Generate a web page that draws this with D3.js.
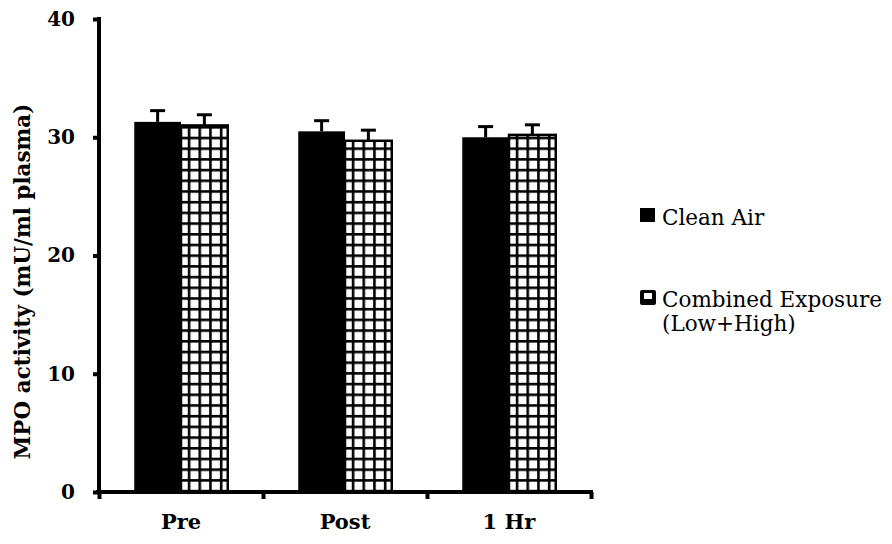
<!DOCTYPE html>
<html>
<head>
<meta charset="utf-8">
<script src="https://cdn.jsdelivr.net/npm/d3@7"></script>
<style>
  body { margin: 0; background: #fff; }
  svg { display: block; font-family: "DejaVu Serif", serif; }
</style>
</head>
<body>
<svg id="chart"></svg>
<script>
// data
const categories = ["Pre", "Post", "1 Hr"];
const seriesNames = ["Clean Air", "Combined Exposure (Low+High)"];
const cleanAir = [31.3, 30.5, 30.0];
const cleanAirErr = [0.95, 0.9, 0.9];
const combined = [31.0, 29.7, 30.2];
const combinedErr = [0.9, 0.9, 0.85];
const yTicks = [0, 10, 20, 30, 40];

const width = 892;
const height = 544;
const margin = { top: 19, right: 301, bottom: 52, left: 99 };

const svg = d3.select("#chart")
  .attr("width", width)
  .attr("height", height);

const plotW = width - margin.left - margin.right;
const plotH = height - margin.top - margin.bottom;

const g = svg.append("g")
  .attr("transform", `translate(${margin.left},${margin.top})`);

// scales
const x0 = d3.scaleBand()
  .domain(categories)
  .range([0, plotW])
  .paddingInner(0.43)
  .paddingOuter(0.215);

const x1 = d3.scaleBand()
  .domain(seriesNames)
  .range([0, x0.bandwidth()]);

const y = d3.scaleLinear()
  .domain([0, 40])
  .range([plotH, 0]);

// hatch pattern for combined exposure
const defs = svg.append("defs");
const pat = defs.append("pattern")
  .attr("id", "grid")
  .attr("patternUnits", "userSpaceOnUse")
  .attr("width", 10.7)
  .attr("height", 10.7);
pat.append("rect").attr("width", 10.7).attr("height", 10.7).attr("fill", "#fff");
pat.append("rect").attr("x", 0).attr("y", 0).attr("width", 2.6).attr("height", 10.7).attr("fill", "#000");
pat.append("rect").attr("x", 0).attr("y", 0).attr("width", 10.7).attr("height", 2.6).attr("fill", "#000");

const rows = categories.map((c, i) => ({
  cat: c,
  values: [
    { key: seriesNames[0], value: cleanAir[i], err: cleanAirErr[i] },
    { key: seriesNames[1], value: combined[i], err: combinedErr[i] }
  ]
}));

// bars
const groups = g.selectAll(".group")
  .data(rows)
  .join("g")
  .attr("class", "group")
  .attr("transform", d => `translate(${x0(d.cat)},0)`);

// error bars (upper only)
groups.selectAll(".err")
  .data(d => d.values)
  .join("g")
  .attr("class", "err")
  .each(function(d) {
    const cx = x1(d.key) + x1.bandwidth() / 2;
    const sel = d3.select(this);
    sel.append("line")
      .attr("x1", cx).attr("x2", cx)
      .attr("y1", y(d.value)).attr("y2", y(d.value + d.err))
      .attr("stroke", "#000").attr("stroke-width", 3);
    sel.append("line")
      .attr("x1", cx - 7.5).attr("x2", cx + 7.5)
      .attr("y1", y(d.value + d.err)).attr("y2", y(d.value + d.err))
      .attr("stroke", "#000").attr("stroke-width", 3);
  });

groups.selectAll(".bar")
  .data(d => d.values)
  .join("rect")
  .attr("class", "bar")
  .attr("x", d => x1(d.key))
  .attr("y", d => y(d.value))
  .attr("width", x1.bandwidth())
  .attr("height", d => plotH - y(d.value))
  .attr("fill", (d, i) => i === 0 ? "#000" : "url(#grid)")
  .attr("stroke", (d, i) => i === 0 ? "none" : "#000")
  .attr("stroke-width", 2.5);

// y axis
const yAxis = g.append("g")
  .call(d3.axisLeft(y).tickValues(yTicks).tickSize(6).tickPadding(18));
yAxis.select(".domain").attr("stroke-width", 4).attr("d", `M0,-2V${plotH}`);
yAxis.selectAll(".tick line").attr("stroke-width", 4);
yAxis.selectAll(".tick text")
  .attr("font-family", "DejaVu Serif, serif")
  .attr("font-size", 20)
  .attr("font-weight", "bold")
  .attr("fill", "#000");

// x axis: labels at band centres
const xAxis = g.append("g")
  .attr("transform", `translate(0,${plotH})`)
  .call(d3.axisBottom(x0).tickSize(0).tickPadding(22));
xAxis.select(".domain").attr("stroke-width", 4).attr("d", `M-3,0H${plotW + 2}`);
xAxis.selectAll(".tick text")
  .attr("font-family", "DejaVu Serif, serif")
  .attr("font-size", 21)
  .attr("font-weight", "bold")
  .attr("fill", "#000");

// x axis: boundary ticks between categories
const xEdge = d3.scaleLinear().domain([0, categories.length]).range([0, plotW]);
const edgeAxis = g.append("g")
  .attr("transform", `translate(0,${plotH})`)
  .call(d3.axisBottom(xEdge).tickValues([0, 1, 2, 3]).tickSize(7).tickFormat(""));
edgeAxis.select(".domain").remove();
edgeAxis.selectAll(".tick line").attr("stroke-width", 4);

// y axis title
svg.append("text")
  .attr("transform", `translate(30,${margin.top + plotH / 2 + 26}) rotate(-90)`)
  .attr("text-anchor", "middle")
  .attr("font-size", 21.5)
  .attr("font-weight", "bold")
  .text("MPO activity (mU/ml plasma)");

// legend
const legend = svg.append("g")
  .attr("transform", "translate(640,208)");

legend.append("rect")
  .attr("x", 0).attr("y", 0)
  .attr("width", 15).attr("height", 14)
  .attr("fill", "#000");
legend.append("text")
  .attr("x", 22).attr("y", 17)
  .attr("font-size", 21.5)
  .text("Clean Air");

const leg2 = legend.append("g").attr("transform", "translate(0,82)");
leg2.append("rect")
  .attr("x", 0).attr("y", 0)
  .attr("width", 16).attr("height", 15)
  .attr("rx", 2)
  .attr("fill", "#000");
leg2.append("rect")
  .attr("x", 4).attr("y", 3)
  .attr("width", 8).attr("height", 6)
  .attr("fill", "#fff");
leg2.append("text")
  .attr("x", 22).attr("y", 17)
  .attr("font-size", 21.5)
  .text("Combined Exposure");
leg2.append("text")
  .attr("x", 22).attr("y", 41)
  .attr("font-size", 21.5)
  .text("(Low+High)");
</script>
</body>
</html>
